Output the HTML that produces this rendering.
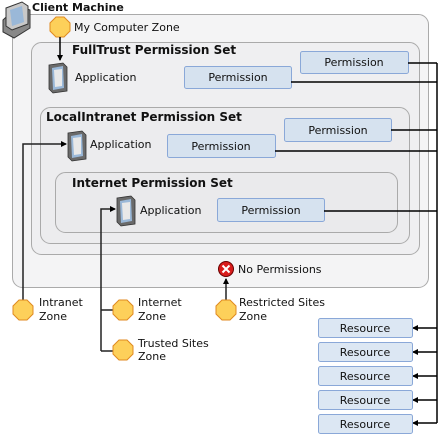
<!DOCTYPE html>
<html><head><style>
html,body{margin:0;padding:0;background:#fff;}
svg text{font-family:"DejaVu Sans","Liberation Sans",sans-serif;font-size:11px;fill:#111;}
.b{font-weight:bold;}
.s{font-weight:bold;font-size:12px;}
</style></head><body>
<svg width="439" height="434" viewBox="0 0 439 434" xmlns="http://www.w3.org/2000/svg">
<defs>
<marker id="a" markerWidth="6" markerHeight="6" refX="5" refY="3" orient="auto" markerUnits="userSpaceOnUse"><path d="M0,0 L6,3 L0,6 z" fill="#000"/></marker>
<g id="oct"><polygon points="-4,-10 4,-10 10,-4 10,4 4,10 -4,10 -10,4 -10,-4" fill="#fdd05a" stroke="#e08a20" stroke-width="1"/></g>
<g id="app"><polygon points="0,2 14,0 18,4 18,28 4,30 0,26" fill="#6a6a6a" stroke="#333" stroke-width="0.8"/><polygon points="3,5 14,3 15,25 4,27" fill="#9ab8d8"/><polygon points="5,7 13,6 13,23 6,24" fill="#e8e8e8"/></g>
</defs>
<rect x="12.5" y="14.5" width="416" height="273" rx="10" fill="#f4f4f5" stroke="#aaa"/>
<rect x="31.5" y="42.5" width="388" height="212" rx="10" fill="#efeff1" stroke="#aaa"/>
<rect x="40.5" y="107.5" width="369" height="136" rx="10" fill="#ececee" stroke="#aaa"/>
<rect x="55.5" y="172.5" width="342" height="60" rx="10" fill="#eaeaec" stroke="#aaa"/>
<polygon points="3,20 18,6 30,10 30,28 14,38 3,32" fill="#888" stroke="#333"/>
<polygon points="6,8 22,2 28,6 28,24 12,30 6,26" fill="#c8c8c8" stroke="#333"/>
<polygon points="10,10 22,6 24,22 12,26" fill="#9ab8d8"/>
<text x="32" y="11" class="b">Client Machine</text>
<use href="#oct" x="60" y="27"/>
<text x="74" y="31">My Computer Zone</text>
<line x1="60" y1="37" x2="60" y2="60" stroke="#000" stroke-width="1.5" marker-end="url(#a)"/>
<text x="72" y="54" class="s">FullTrust Permission Set</text>
<use href="#app" x="49" y="63"/>
<text x="75" y="81">Application</text>
<text x="46" y="121" class="s">LocalIntranet Permission Set</text>
<use href="#app" x="68" y="131"/>
<text x="90" y="148">Application</text>
<text x="72" y="187" class="s">Internet Permission Set</text>
<use href="#app" x="117" y="196"/>
<text x="140" y="214">Application</text>
<g fill="#d6e2ef" stroke="#8aa8d8">
<rect x="184.5" y="66.5" width="107" height="22" rx="2"/>
<rect x="300.5" y="51.5" width="108" height="22" rx="2"/>
<rect x="284.5" y="118.5" width="107" height="23" rx="2"/>
<rect x="167.5" y="134.5" width="108" height="23" rx="2"/>
<rect x="217.5" y="198.5" width="107" height="23" rx="2"/>
</g>
<text x="238" y="81" text-anchor="middle">Permission</text>
<text x="354" y="66" text-anchor="middle">Permission</text>
<text x="338" y="134" text-anchor="middle">Permission</text>
<text x="221" y="150" text-anchor="middle">Permission</text>
<text x="271" y="214" text-anchor="middle">Permission</text>
<g stroke="#000" stroke-width="1.5" fill="none">
<path d="M408,63 H437 M291,82 H437 M391,130 H437 M275,151 H437 M324,211 H437 M437,63 V423"/>
</g>
<g stroke="#000" stroke-width="1.5">
<line x1="437" y1="328" x2="413" y2="328" marker-end="url(#a)"/>
<line x1="437" y1="352" x2="413" y2="352" marker-end="url(#a)"/>
<line x1="437" y1="376" x2="413" y2="376" marker-end="url(#a)"/>
<line x1="437" y1="400" x2="413" y2="400" marker-end="url(#a)"/>
<line x1="437" y1="423" x2="413" y2="423" marker-end="url(#a)"/>
</g>
<g fill="#dce7f3" stroke="#8aa8d8">
<rect x="318.5" y="318.5" width="94" height="19" rx="2"/>
<rect x="318.5" y="342.5" width="94" height="19" rx="2"/>
<rect x="318.5" y="366.5" width="94" height="19" rx="2"/>
<rect x="318.5" y="390.5" width="94" height="19" rx="2"/>
<rect x="318.5" y="414.5" width="94" height="19" rx="2"/>
</g>
<text x="365" y="332" text-anchor="middle">Resource</text>
<text x="365" y="356" text-anchor="middle">Resource</text>
<text x="365" y="380" text-anchor="middle">Resource</text>
<text x="365" y="404" text-anchor="middle">Resource</text>
<text x="365" y="428" text-anchor="middle">Resource</text>
<g stroke="#222" stroke-width="1.5" fill="none">
<path d="M23,300 V144 H66" marker-end="url(#a)"/>
<path d="M101,351 V209 H115" marker-end="url(#a)"/>
<path d="M101,310 H113 M101,351 H113"/>
<path d="M226,300 V279" marker-end="url(#a)"/>
</g>
<use href="#oct" x="23" y="310"/>
<text x="39" y="306">Intranet</text><text x="39" y="320">Zone</text>
<use href="#oct" x="123" y="310"/>
<text x="138" y="306">Internet</text><text x="138" y="320">Zone</text>
<use href="#oct" x="123" y="350"/>
<text x="138" y="347">Trusted Sites</text><text x="138" y="360">Zone</text>
<use href="#oct" x="226" y="310"/>
<text x="239" y="306">Restricted Sites</text><text x="239" y="320">Zone</text>
<circle cx="226" cy="269" r="7.5" fill="#d81c1c" stroke="#600"/>
<path d="M222.5,265.5 L229.5,272.5 M229.5,265.5 L222.5,272.5" stroke="#fff" stroke-width="2"/>
<text x="238" y="273">No Permissions</text>
</svg>
</body></html>
